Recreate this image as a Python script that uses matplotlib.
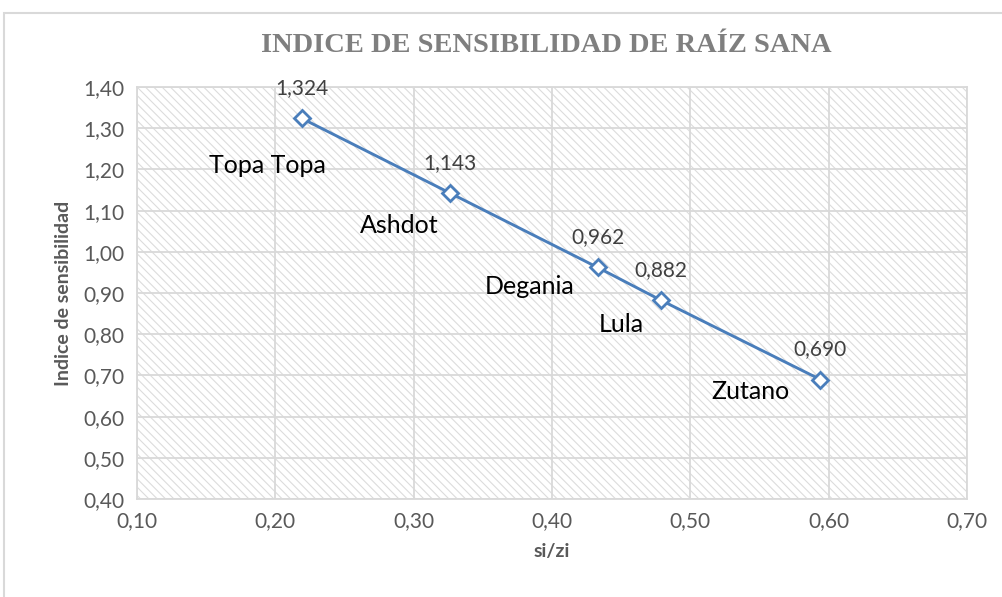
import matplotlib.pyplot as plt
from matplotlib.patches import Rectangle
from matplotlib.ticker import FuncFormatter, MultipleLocator

plt.rcParams['font.family'] = ['Lato', 'DejaVu Sans']
plt.rcParams['hatch.linewidth'] = 0.8

# datos
variedades = ["Topa Topa", "Ashdot", "Degania", "Lula", "Zutano"]
si_zi = [0.219, 0.326, 0.433, 0.479, 0.594]
indice = [1.324, 1.143, 0.962, 0.882, 0.690]
# desplazamiento de las etiquetas de nombre (pixeles)
name_off = [(-34, -47), (-50, -33), (-68, -19), (-40, -24), (-70, -12)]

azul = "#4a7ebb"
gris_grid = "#d9d9d9"
gris_txt = "#595959"

fig = plt.figure(figsize=(10.02, 5.97), dpi=100)
# borde exterior del grafico
fig.patches.append(Rectangle((4 / 1002, -0.1), 1.2, 1.1 - 13 / 597,
                             transform=fig.transFigure, fill=False,
                             edgecolor=gris_grid, linewidth=1.5))

ax = fig.add_axes([137 / 1002, 98 / 597, 830 / 1002, 412 / 597])
ax.add_patch(Rectangle((0, 0), 1, 1, transform=ax.transAxes, facecolor="white",
                       edgecolor="#dcdcdc", hatch="\\\\\\\\", linewidth=0, zorder=0))

ax.plot(si_zi, indice, color=azul, linewidth=2.1, marker="D", markersize=8,
        markerfacecolor="white", markeredgecolor=azul, markeredgewidth=2, zorder=3)

for x, y, nom, off in zip(si_zi, indice, variedades, name_off):
    ax.annotate("{:.3f}".format(y).replace(".", ","), (x, y), xytext=(0, 20),
                textcoords="offset pixels", ha="center", va="bottom",
                fontsize=15, color="#404040")
    ax.annotate(nom, (x, y), xytext=off, textcoords="offset pixels",
                ha="center", va="center", fontsize=18, color="black")

ax.set_xlim(0.10, 0.70)
ax.set_ylim(0.40, 1.40)
ax.xaxis.set_major_locator(MultipleLocator(0.1))
ax.yaxis.set_major_locator(MultipleLocator(0.1))
coma = FuncFormatter(lambda v, p: "{:.2f}".format(v).replace(".", ","))
ax.xaxis.set_major_formatter(coma)
ax.yaxis.set_major_formatter(coma)
ax.grid(True, color=gris_grid, linewidth=1.3, zorder=1)
ax.set_axisbelow(True)
for s in ax.spines.values():
    s.set_color(gris_grid)
    s.set_linewidth(1.3)
ax.tick_params(length=0, labelsize=15, colors=gris_txt, pad=9)

ax.set_xlabel("si/zi", fontsize=14, fontweight="bold", color=gris_txt, labelpad=8)
ax.set_ylabel("Indice de sensibilidad", fontsize=14, fontweight="bold",
              color=gris_txt, labelpad=8)
fig.text(546 / 1002, 1 - 46 / 597, "INDICE DE SENSIBILIDAD DE RAÍZ SANA",
         family="Liberation Serif", fontweight="bold",
         fontsize=20.5, color="#7f7f7f", ha="center", va="center")

fig.savefig("out.png", dpi=100)
